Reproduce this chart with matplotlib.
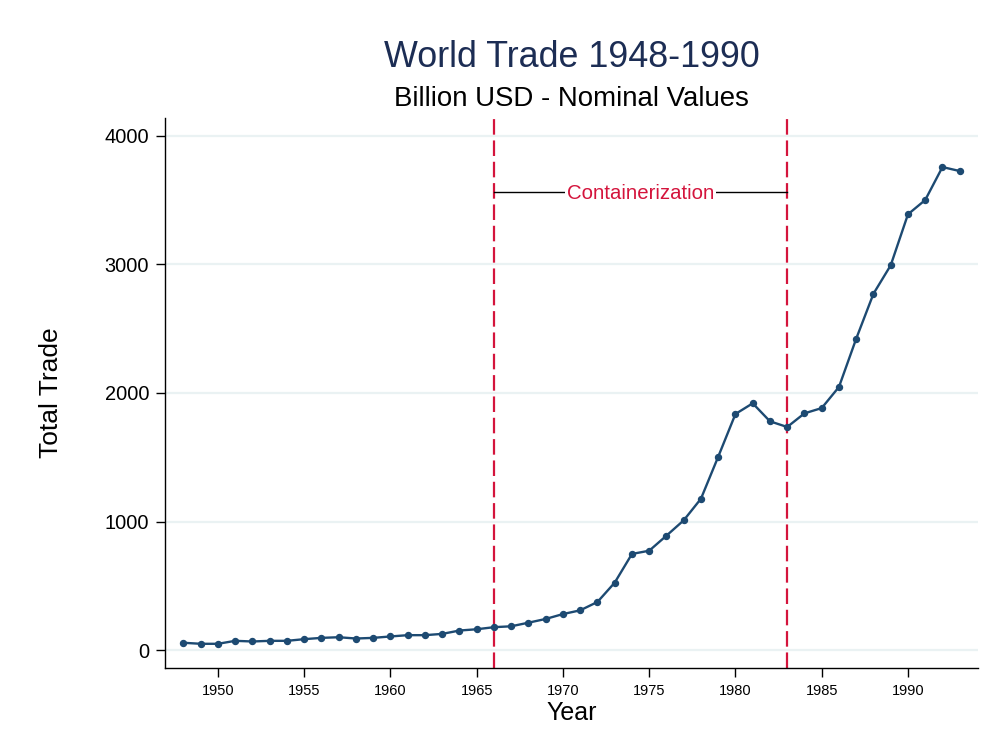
import matplotlib
matplotlib.use("Agg")
import matplotlib.pyplot as plt
import numpy as np

years = list(range(1948, 1994))
trade = [60, 52, 52, 75, 70, 75, 75, 88, 98, 103, 93, 98, 109, 119, 119, 129, 155, 165,
         181, 188, 216, 245, 283, 312, 377, 527, 750, 775, 892, 1011, 1179, 1505,
         1837, 1920, 1780, 1736, 1842, 1883, 2047, 2422, 2771, 2992, 3388, 3499, 3755, 3724]
y_ticks = [0, 1000, 2000, 3000, 4000]
x_ticks = [1950, 1955, 1960, 1965, 1970, 1975, 1980, 1985, 1990]
period = [1966, 1983]
annot_y = 3560
annot_text = "Containerization"

plt.rcParams['font.family'] = ['Liberation Sans', 'DejaVu Sans']

W, H = 1001, 753
fig = plt.figure(figsize=(W / 100, H / 100), dpi=100)
ax = fig.add_axes([165 / W, 1 - 668 / H, (978 - 165) / W, (668 - 118) / H])

navy = '#1d4a72'
red = '#d4143c'

for yt in y_ticks:
    ax.axhline(yt, color='#eaf2f3', lw=1.6, zorder=0)

ax.plot(years, trade, color=navy, lw=1.7, marker='o', ms=4.3, zorder=3)

for p in period:
    ax.axvline(p, color=red, lw=1.6, dashes=(7, 2.6), zorder=2)

ax.plot(period, [annot_y, annot_y], color='black', lw=1.0, zorder=2)
ax.text(sum(period) / 2, annot_y - 12, annot_text, color=red, fontsize=14.7,
        ha='center', va='center', zorder=4,
        bbox=dict(facecolor='white', edgecolor='none', pad=1.5))

ax.set_xlim(1946.93, 1994.06)
ax.set_ylim(-136, 4136)
ax.set_xticks(x_ticks)
ax.set_yticks(y_ticks)
ax.tick_params(axis='x', labelsize=10.5, length=6.5, width=1.0, pad=5)
ax.tick_params(axis='y', labelsize=14.4, length=6.5, width=1.0, pad=5)

for s in ['top', 'right']:
    ax.spines[s].set_visible(False)
for s in ['left', 'bottom']:
    ax.spines[s].set_linewidth(1.0)

ax.set_xlabel('Year', fontsize=18, labelpad=2)
ax.set_ylabel('Total Trade', fontsize=19, labelpad=30)

cx = ((165 + 978) / 2) / W
fig.text(cx, 1 - 67 / H, 'World Trade 1948-1990', fontsize=25.8, color='#1c2d54',
         ha='center', va='baseline')
fig.text(cx, 1 - 106 / H, 'Billion USD - Nominal Values', fontsize=19.9, color='black',
         ha='center', va='baseline')

fig.savefig('out.png', dpi=100)
